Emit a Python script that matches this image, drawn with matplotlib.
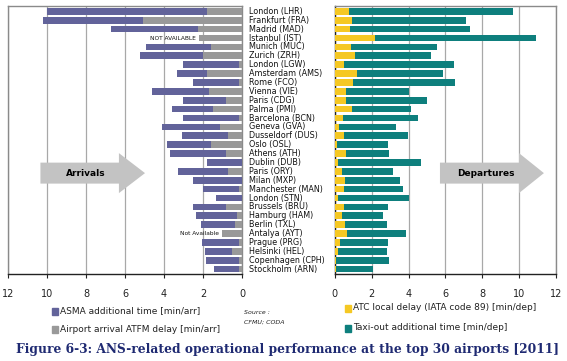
import matplotlib.pyplot as plt
import numpy as np
from matplotlib.patches import Rectangle, FancyArrow

airports = ["London (LHR)", "Frankfurt (FRA)", "Madrid (MAD)", "Istanbul (IST)",
            "Munich (MUC)", "Zurich (ZRH)", "London (LGW)", "Amsterdam (AMS)",
            "Rome (FCO)", "Vienna (VIE)", "Paris (CDG)", "Palma (PMI)",
            "Barcelona (BCN)", "Geneva (GVA)", "Dusseldorf (DUS)", "Oslo (OSL)",
            "Athens (ATH)", "Dublin (DUB)", "Paris (ORY)", "Milan (MXP)",
            "Manchester (MAN)", "London (STN)", "Brussels (BRU)", "Hamburg (HAM)",
            "Berlin (TXL)", "Antalya (AYT)", "Prague (PRG)", "Helsinki (HEL)",
            "Copenhagen (CPH)", "Stockholm (ARN)"]

# arrivals [min/arr]
atfm_arr = [1.78, 5.07, 2.26, 2.21, 1.59, 1.99, 0.17, 1.78, 0.15, 1.71,
            0.84, 1.51, 0.15, 1.13, 0.70, 1.58, 0.84, 0.0, 0.70, 0.0,
            0.17, 0.0, 0.82, 0.26, 0.38, 1.04, 0.17, 0.50, 0.17, 0.14]
asma = [8.25, 5.17, 4.48, 0.0, 3.34, 3.26, 2.86, 1.56, 2.35, 2.93,
        2.19, 2.10, 2.88, 2.98, 2.38, 2.27, 2.86, 1.78, 2.59, 2.50,
        1.83, 1.34, 1.68, 2.10, 1.73, 0.0, 1.90, 1.40, 1.69, 1.31]

# departures [min/dep]
atc_local = [0.79, 0.94, 0.83, 2.20, 0.90, 1.12, 0.50, 1.21, 0.99, 0.59,
             0.59, 0.94, 0.45, 0.23, 0.50, 0.11, 0.59, 0.20, 0.38, 0.56,
             0.50, 0.20, 0.50, 0.38, 0.56, 0.67, 0.29, 0.20, 0.07, 0.07]
taxi_out = [8.85, 6.15, 6.50, 8.72, 4.62, 4.08, 5.98, 4.64, 5.52, 3.45,
            4.39, 3.17, 4.04, 3.09, 3.47, 2.78, 2.35, 4.45, 2.76, 2.98,
            3.22, 3.81, 2.39, 2.24, 2.29, 3.19, 2.60, 2.65, 2.87, 2.00]

not_available = {"Istanbul (IST)": "NOT AVAILABLE", "Antalya (AYT)": "Not Available"}

c_asma = '#62639a'
c_atfm = '#999999'
c_atc = '#f5c823'
c_taxi = '#0e7f7d'
grid_c = '#a8a8a8'

W, H = 567, 361
fig = plt.figure(figsize=(W / 100, H / 100), dpi=100)

y = np.arange(len(airports))
atfm_arr = np.array(atfm_arr)
asma = np.array(asma)
atc_local = np.array(atc_local)
taxi_out = np.array(taxi_out)

axL = fig.add_axes([8.3 / W, 1 - 274 / H, 233.7 / W, 268 / H])
axR = fig.add_axes([334.7 / W, 1 - 274 / H, 221.6 / W, 268 / H])

axL.barh(y, atfm_arr, height=0.74, color=c_atfm, zorder=3)
axL.barh(y, asma, left=atfm_arr, height=0.74, color=c_asma, zorder=3)
axR.barh(y, atc_local, height=0.74, color=c_atc, zorder=3)
axR.barh(y, taxi_out, left=atc_local, height=0.74, color=c_taxi, zorder=3)

for ax in (axL, axR):
    ax.set_ylim(29.55, -0.6)
    ax.set_xticks(np.arange(0, 13, 2))
    ax.set_xticklabels([str(v) for v in range(0, 13, 2)], fontsize=7, color='#222222')
    ax.xaxis.grid(True, color=grid_c, linewidth=0.9, zorder=0)
    ax.set_yticks([])
    ax.tick_params(axis='x', length=3, width=0.8, color='#222222', pad=8)
    for s in ax.spines.values():
        s.set_color('#8a8a8a')
        s.set_linewidth(1.0)
    ax.spines['bottom'].set_color('#222222')

axL.set_xlim(12, 0)
axR.set_xlim(0, 12)
axR.spines['left'].set_color('#222222')

# airport names between the panels
for i, name in enumerate(airports):
    axL.text(-0.35, i, name, fontsize=5.8, va='center', ha='left',
             color='#111111', clip_on=False)
    if name in not_available:
        axL.text(atfm_arr[i] + 0.15, i, not_available[name], fontsize=4.2,
                 va='center', ha='right', color='#111111', zorder=4)

# direction arrows
axL.add_patch(FancyArrow(10.35, 18.2, -5.37, 0, width=2.36, head_width=4.5,
                         head_length=1.34, length_includes_head=True,
                         color='#c3c3c3', ec='none', zorder=2))
axL.text(8.0, 18.2, "Arrivals", fontsize=6.5, fontweight='bold',
         ha='center', va='center', zorder=3)
axR.add_patch(FancyArrow(5.7, 18.2, 5.63, 0, width=2.36, head_width=4.5,
                         head_length=1.35, length_includes_head=True,
                         color='#c3c3c3', ec='none', zorder=2))
axR.text(8.2, 18.2, "Departures", fontsize=6.5, fontweight='bold',
         ha='center', va='center', zorder=3)

# legend
def legend_item(x, yy, color, label):
    fig.add_artist(Rectangle(((x - 3) / W, 1 - (yy + 3.5) / H), 6 / W, 7 / H,
                             transform=fig.transFigure, color=color))
    fig.text((x + 5) / W, 1 - yy / H, label, fontsize=6.5, va='center',
             ha='left', color='#222222')

legend_item(55, 311, c_asma, "ASMA additional time [min/arr]")
legend_item(55, 329, c_atfm, "Airport arrival ATFM delay [min/arr]")
legend_item(348, 308, c_atc, "ATC local delay (IATA code 89) [min/dep]")
legend_item(348, 328, c_taxi, "Taxi-out additional time [min/dep]")

fig.text(244 / W, 1 - 313 / H, "Source :", fontsize=4.5, style='italic',
         va='center', ha='left', color='#222222')
fig.text(244 / W, 1 - 322 / H, "CFMU; CODA", fontsize=4.5, style='italic',
         va='center', ha='left', color='#222222')

fig.text(287 / W, 1 - 349 / H,
         "Figure 6-3: ANS-related operational performance at the top 30 airports [2011]",
         fontsize=8.85, family='DejaVu Serif', fontweight='bold', color='#1f2a72',
         ha='center', va='center')

plt.savefig('out.png', dpi=100)
